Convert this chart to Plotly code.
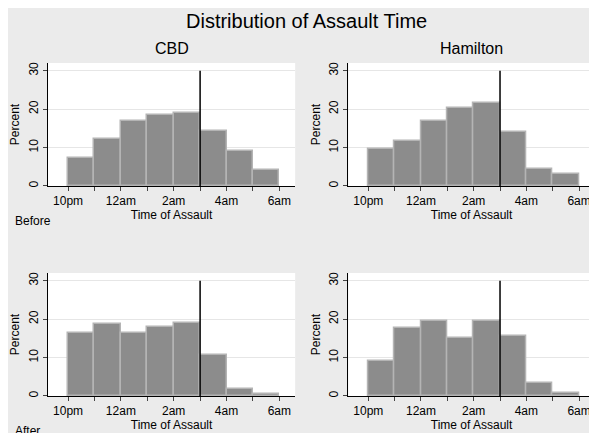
import plotly.graph_objects as go

# bin centres in hours (22 = 10pm, 30 = 6am)
hours = [22.5, 23.5, 24.5, 25.5, 26.5, 27.5, 28.5, 29.5]
cbd_before = [7.3, 12.2, 17.0, 18.4, 18.9, 14.2, 9.0, 4.2]
ham_before = [9.6, 11.6, 17.0, 20.2, 21.6, 14.0, 4.5, 3.0]
cbd_after = [16.3, 18.6, 16.5, 18.0, 18.9, 10.6, 1.7, 0.5]
ham_after = [9.2, 17.7, 19.6, 15.0, 19.6, 15.6, 3.4, 0.9]
tick_vals = [22, 23, 24, 25, 26, 27, 28, 29, 30]
tick_text = ["10pm", "", "12am", "", "2am", "", "4am", "", "6am"]
cutoff = 27  # 3am

panels = [
    (cbd_before, [0.067, 0.481], [0.589, 0.873]),
    (ham_before, [0.570, 0.983], [0.589, 0.873]),
    (cbd_after, [0.067, 0.481], [0.104, 0.388]),
    (ham_after, [0.570, 0.983], [0.104, 0.388]),
]

fig = go.Figure()
font = dict(family="Liberation Sans, Arial", color="black")
for i, (vals, xd, yd) in enumerate(panels, start=1):
    sx = "" if i == 1 else str(i)
    fig.add_trace(go.Bar(
        x=hours, y=vals, width=1, xaxis="x" + sx, yaxis="y" + sx,
        marker=dict(color="#8c8c8c", line=dict(color="#b4b4b4", width=1.5)),
        showlegend=False))
    fig.update_layout({
        "xaxis" + sx: dict(domain=xd, anchor="y" + sx, range=[21.24, 30.6],
                           tickvals=tick_vals, ticktext=tick_text, ticks="outside",
                           ticklen=4, showgrid=False, zeroline=False,
                           showline=True, linecolor="black", automargin=False,
                           title=dict(text="Time of Assault", standoff=2, font=dict(size=12)),
                           tickfont=dict(size=12)),
        "yaxis" + sx: dict(domain=yd, anchor="x" + sx, range=[0, 32],
                           tickvals=[0, 10, 20, 30], tickangle=-90, ticks="outside",
                           ticklen=4, gridcolor="#e6e6e6", zeroline=False,
                           showline=True, linecolor="black", automargin=False,
                           title=dict(text="Percent", standoff=4, font=dict(size=12)),
                           tickfont=dict(size=12)),
    })
    fig.add_shape(type="line", xref="x" + sx, yref="y" + sx,
                  x0=cutoff, x1=cutoff, y0=0, y1=30,
                  line=dict(color="black", width=1.5))

annos = [
    ("Distribution of Assault Time", 0.5, 1 - 13 / 433, 20, "center"),
    ("CBD", 0.274, 1 - 40 / 433, 16, "center"),
    ("Hamilton", 0.777, 1 - 40 / 433, 16, "center"),
    ("Before", 5 / 597, 1 - 213 / 433, 12, "left"),
    ("After", 5 / 597, 1 - 423 / 433, 12, "left"),
]
for text, x, y, size, anchor in annos:
    fig.add_annotation(text=text, x=x, y=y, xref="paper", yref="paper",
                       showarrow=False, xanchor=anchor, yanchor="middle",
                       font=dict(size=size))

fig.update_layout(width=597, height=433, margin=dict(l=0, r=0, t=0, b=0),
                  paper_bgcolor="#ebebeb", plot_bgcolor="white",
                  bargap=0, font=font)
fig.write_html("out.html")
